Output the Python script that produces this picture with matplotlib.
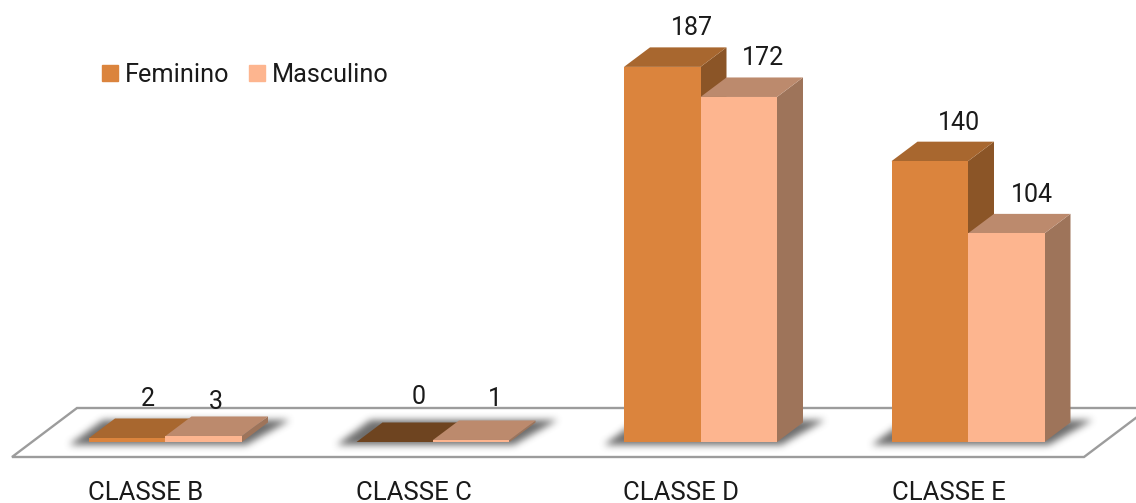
import numpy as np
import matplotlib
matplotlib.use('Agg')
import matplotlib.pyplot as plt
from matplotlib.patches import Patch

# Data
categories = ['CLASSE B', 'CLASSE C', 'CLASSE D', 'CLASSE E']
feminino = [2, 0, 187, 140]
masculino = [3, 1, 172, 104]

# Colours: front, top, side
fem_colors = ('#DB843D', '#A8672F', '#8B5527')
mas_colors = ('#FDB58F', '#BC8A6D', '#9E745A')
zero_top = '#6E4420'

plt.rcParams['font.family'] = ['Roboto', 'DejaVu Sans']

W, H = 1136, 503
STEP = 267.5       # px between categories
UNIT = 2.006       # px per value
X0, Y0 = 165.5, 442  # px position of first category centre, value 0

fig = plt.figure(figsize=(W / 100, H / 100), dpi=100)
ax = fig.add_axes([0, 0, 1, 1])
xlim = (-X0 / STEP, (W - X0) / STEP)
ylim = ((Y0 - H) / UNIT, Y0 / UNIT)
ax.axis('off')

bar_w = 76.5 / STEP
dx = 26 / STEP
dy = 19.5 / UNIT

# Floor
fl_x0 = (12 - X0) / STEP
fl_x1 = (1084 - X0) / STEP
fl_y0 = -15 / UNIT
fl_dx = 65 / STEP
fl_dy = 49 / UNIT
ax.fill([fl_x0, fl_x1, fl_x1 + fl_dx, fl_x0 + fl_dx],
        [fl_y0, fl_y0, fl_y0 + fl_dy, fl_y0 + fl_dy],
        facecolor='white', edgecolor='#9C9C9C', linewidth=1.7, zorder=1)


def blur(a, size=9):
    # three box passes, close enough to a gaussian
    k = np.ones(size) / size
    for _ in range(3):
        a = np.apply_along_axis(lambda r: np.convolve(r, k, mode='same'), 0, a)
        a = np.apply_along_axis(lambda r: np.convolve(r, k, mode='same'), 1, a)
    return a


# Soft shadows under the bars, as one image in data coordinates
px, py = np.meshgrid(np.arange(W) + 0.5, np.arange(H) + 0.5)
mask = np.zeros((H, W))
for i in range(len(categories)):
    l = X0 + i * STEP - 76.5
    r = X0 + i * STEP + 76.5
    top, bot = 420, 445
    t = (bot - py) / (bot - top)
    inside = (py > top) & (py < bot) & (px > l - 20 + t * 34) & (px < r + 4 + t * 44)
    mask[inside] = 1
alpha = blur(mask, 7) * 0.85
rgba = np.zeros((H, W, 4))
rgba[..., :3] = 0.33
rgba[..., 3] = alpha
ax.imshow(rgba, extent=(xlim[0], xlim[1], ylim[0], ylim[1]), origin='upper',
          aspect='auto', interpolation='bilinear', zorder=2)
ax.set_xlim(xlim)
ax.set_ylim(ylim)


def bar3d(left, value, colors, top_color, z):
    right = left + bar_w
    ax.fill([right, right + dx, right + dx, right],
            [0, dy, value + dy, value], color=colors[2], linewidth=0, zorder=z)
    ax.fill([left, right, right + dx, left + dx],
            [value, value, value + dy, value + dy], color=top_color, linewidth=0, zorder=z)
    ax.fill([left, right, right, left], [0, 0, value, value],
            color=colors[0], linewidth=0, zorder=z + 0.1)


for i in range(len(categories)):
    f = feminino[i]
    m = masculino[i]
    bar3d(i - bar_w, f, fem_colors, zero_top if f == 0 else fem_colors[1], 3 + i)
    bar3d(i, m, mas_colors, mas_colors[1], 3.5 + i)

# Value labels, offsets in px from the bar's back top edge
fem_off = [(21, 19), (24, 25), (30, 19), (29, 19)]
mas_off = [(12, 14), (24, 21), (24, 19), (26, 19)]
for i in range(len(categories)):
    for left, v, off in [(i - bar_w, feminino[i], fem_off[i]), (i, masculino[i], mas_off[i])]:
        ax.annotate(str(v), (left + bar_w / 2, v + dy),
                    xytext=(off[0] * 0.72, off[1] * 0.72), textcoords='offset points',
                    ha='center', va='center', fontsize=18, color='#1A1A1A', zorder=20)

# Category labels
for i, c in enumerate(categories):
    ax.text(i - 19.5 / STEP, -51 / UNIT, c, ha='center', va='center',
            fontsize=18.5, color='#1A1A1A', zorder=20)

handles = [Patch(color=fem_colors[0], label='Feminino'), Patch(color=mas_colors[0], label='Masculino')]
ax.legend(handles=handles, loc='center left', bbox_to_anchor=(102 / W, 1 - 75 / H),
          frameon=False, ncol=2, fontsize=18.2, handlelength=0.62, handleheight=0.62,
          handletextpad=0.27, columnspacing=0.8, borderpad=0, borderaxespad=0,
          labelcolor='#1A1A1A')

fig.savefig('out.png', dpi=100)
